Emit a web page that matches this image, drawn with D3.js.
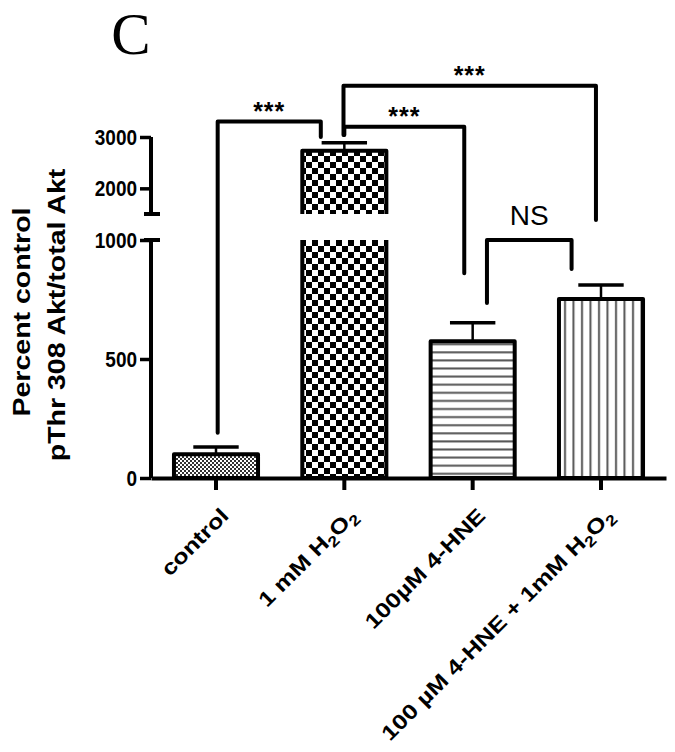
<!DOCTYPE html>
<html>
<head>
<meta charset="utf-8">
<script src="https://cdn.jsdelivr.net/npm/d3@7/dist/d3.min.js"></script>
<style>
  html, body { margin: 0; padding: 0; background: #fff; }
  svg { display: block; }
  text { font-family: Arial, "Liberation Sans", Helvetica, sans-serif; }
</style>
</head>
<body>
<svg width="675" height="752"></svg>
<script>
// data
const categories = ["control", "1 mM H2O2", "100µM 4-HNE", "100 µM 4-HNE + 1mM H2O2"];
const means = [100, 2730, 575, 752];
const sems = [30, 160, 77, 59];
const fills = ["fineDots", "checker", "hLines", "vLines"];

const yTicks = [0, 500, 1000, 2000, 3000];
const axisSegments = [[0, 1000], [1500, 3000]];

// significance brackets: categories, x offset (fraction of bar width), values for top and leg ends
const brackets = [
  { from: 0, to: 1, fromOff: 0.02, toOff: -0.28, top: 3300, fromEnd: 190, toEnd: 3000, label: "***" },
  { from: 1, to: 2, fromOff: 0.0, toOff: -0.10, top: 3200, fromEnd: 3040, toEnd: 860, label: "***" },
  { from: 1, to: 3, fromOff: -0.01, toOff: -0.06, top: 4000, fromEnd: 3040, toEnd: 1385, label: "***" },
  { from: 2, to: 3, fromOff: 0.17, toOff: -0.35, top: 1000, fromEnd: 735, toEnd: 878, label: "NS" }
];

const svg = d3.select("svg");

// broken axis: two linear pieces, gap between 1000 and 1500
const y = d3.scaleLinear()
  .domain([0, 1000, 1500, 3000])
  .range([478, 240, 214, 137]);

const x = d3.scaleBand()
  .domain(categories)
  .range([151, 666])
  .paddingInner(0.345)
  .paddingOuter(0.179);
const bw = x.bandwidth();

// patterns
const defs = svg.append("defs");
let p = defs.append("pattern").attr("id", "fineDots").attr("patternUnits", "userSpaceOnUse")
  .attr("width", 4).attr("height", 4);
p.append("rect").attr("width", 4).attr("height", 4).attr("fill", "#333");
p.append("rect").attr("width", 2).attr("height", 2).attr("fill", "#fff");
p.append("rect").attr("x", 2).attr("y", 2).attr("width", 2).attr("height", 2).attr("fill", "#fff");

p = defs.append("pattern").attr("id", "checker").attr("patternUnits", "userSpaceOnUse")
  .attr("width", 12).attr("height", 12);
p.append("rect").attr("width", 12).attr("height", 12).attr("fill", "#fff");
p.append("rect").attr("width", 6).attr("height", 6).attr("fill", "#000");
p.append("rect").attr("x", 6).attr("y", 6).attr("width", 6).attr("height", 6).attr("fill", "#000");

p = defs.append("pattern").attr("id", "hLines").attr("patternUnits", "userSpaceOnUse")
  .attr("width", 10).attr("height", 8.1);
p.append("rect").attr("width", 10).attr("height", 8.1).attr("fill", "#fff");
p.append("line").attr("x1", 0).attr("x2", 10).attr("y1", 4).attr("y2", 4)
  .attr("stroke", "#555").attr("stroke-width", 2);

p = defs.append("pattern").attr("id", "vLines").attr("patternUnits", "userSpaceOnUse")
  .attr("width", 8.5).attr("height", 10);
p.append("rect").attr("width", 8.5).attr("height", 10).attr("fill", "#fff");
p.append("line").attr("y1", 0).attr("y2", 10).attr("x1", 4).attr("x2", 4)
  .attr("stroke", "#555").attr("stroke-width", 2);

// bars
const rows = categories.map((c, i) => ({ cat: c, mean: means[i], sem: sems[i], fill: fills[i] }));
const barG = svg.append("g");

rows.forEach(d => {
  const x0 = x(d.cat), x1 = x0 + bw;
  if (d.mean > axisSegments[1][0]) {
    // bar crosses the break: lower and upper pieces, open at the gap
    const lo = axisSegments[0][1], hi = axisSegments[1][0];
    barG.append("rect").attr("x", x0).attr("width", bw)
      .attr("y", y(lo)).attr("height", y(0) - y(lo)).attr("fill", `url(#${d.fill})`);
    barG.append("rect").attr("x", x0).attr("width", bw)
      .attr("y", y(d.mean)).attr("height", y(hi) - y(d.mean)).attr("fill", `url(#${d.fill})`);
    barG.append("path")
      .attr("d", `M${x0},${y(lo)}V${y(0)}H${x1}V${y(lo)}`)
      .attr("fill", "none").attr("stroke", "#000").attr("stroke-width", 4);
    barG.append("path")
      .attr("d", `M${x0},${y(hi)}V${y(d.mean)}H${x1}V${y(hi)}`)
      .attr("fill", "none").attr("stroke", "#000").attr("stroke-width", 4)
      .attr("stroke-linejoin", "round");
  } else {
    barG.append("rect").attr("x", x0).attr("width", bw)
      .attr("y", y(d.mean)).attr("height", y(0) - y(d.mean))
      .attr("fill", `url(#${d.fill})`)
      .attr("stroke", "#000").attr("stroke-width", 4).attr("stroke-linejoin", "round");
  }
  // error bar (upper only)
  const cx = x0 + bw / 2;
  barG.append("line").attr("x1", cx).attr("x2", cx)
    .attr("y1", y(d.mean)).attr("y2", y(d.mean + d.sem))
    .attr("stroke", "#000").attr("stroke-width", 2.5);
  barG.append("line").attr("x1", cx - bw * 0.27).attr("x2", cx + bw * 0.27)
    .attr("y1", y(d.mean + d.sem)).attr("y2", y(d.mean + d.sem))
    .attr("stroke", "#000").attr("stroke-width", 3.5);
});

// y axis
const yAxisG = svg.append("g").attr("transform", "translate(151,0)")
  .call(d3.axisLeft(y).tickValues(yTicks).tickFormat(d3.format("d"))
    .tickSize(11).tickSizeOuter(0).tickPadding(3));
yAxisG.select(".domain").remove();
yAxisG.selectAll(".tick line").attr("stroke", "#000").attr("stroke-width", 3.5);
yAxisG.selectAll(".tick text")
  .attr("font-size", 19).attr("font-weight", "bold").attr("fill", "#000")
  .attr("font-family", "Arial, 'Liberation Sans', sans-serif")
  .attr("transform", "scale(1,1.2)");
axisSegments.forEach(s => {
  yAxisG.append("line").attr("x1", 0).attr("x2", 0)
    .attr("y1", y(s[0])).attr("y2", y(s[1]))
    .attr("stroke", "#000").attr("stroke-width", 4);
});
// caps at the break
[axisSegments[0][1], axisSegments[1][0]].forEach(v => {
  yAxisG.append("line").attr("x1", -7).attr("x2", 9)
    .attr("y1", y(v)).attr("y2", y(v))
    .attr("stroke", "#000").attr("stroke-width", 4);
});

// x axis
const xAxisG = svg.append("g").attr("transform", `translate(0,${y(0)})`)
  .call(d3.axisBottom(x).tickSize(12).tickSizeOuter(0));
xAxisG.select(".domain").attr("stroke", "#000").attr("stroke-width", 4);
xAxisG.selectAll(".tick line").attr("stroke", "#000").attr("stroke-width", 4);
xAxisG.selectAll(".tick text").remove();

// x labels with subscripts
function addLabel(g, str) {
  const t = g.append("text").attr("text-anchor", "end")
    .attr("font-size", 21).attr("font-weight", "bold").attr("fill", "#000");
  const parts = str.split(/([HO])2/);
  // parts: text, letter, text, letter ...
  let sub = false;
  parts.forEach((s, i) => {
    if (i % 2 === 1) {
      t.append("tspan").attr("dy", sub ? -5 : 0).attr("font-size", 21).text(s);
      t.append("tspan").attr("dy", 5).attr("font-size", 15).text("2");
      sub = true;
    } else if (s.length) {
      t.append("tspan").attr("dy", sub ? -5 : 0).attr("font-size", 21).text(s);
      sub = false;
    }
  });
}
categories.forEach(c => {
  const g = svg.append("g")
    .attr("transform", `translate(${x(c) + bw / 2 + 14},517) rotate(-45) scale(1.2,1)`);
  addLabel(g, c);
});

// y title
const yTitle = svg.append("g").attr("transform", "translate(0,312)");
yTitle.append("text")
  .attr("transform", "translate(30,0) rotate(-90) scale(1.24,1)")
  .attr("text-anchor", "middle").attr("font-size", 23).attr("font-weight", "bold")
  .text("Percent control");
yTitle.append("text")
  .attr("transform", "translate(65,3) rotate(-90) scale(1.24,1)")
  .attr("text-anchor", "middle").attr("font-size", 23).attr("font-weight", "bold")
  .text("pThr 308 Akt/total Akt");

// brackets
const bx = (i, off) => x(categories[i]) + bw / 2 + off * bw;
const brG = svg.append("g");
brackets.forEach(b => {
  const xa = bx(b.from, b.fromOff), xb = bx(b.to, b.toOff);
  brG.append("path")
    .attr("d", `M${xa},${y(b.fromEnd)}V${y(b.top)}H${xb}V${y(b.toEnd)}`)
    .attr("fill", "none").attr("stroke", "#000").attr("stroke-width", 4)
    .attr("stroke-linecap", "round").attr("stroke-linejoin", "round");
  const isNS = b.label === "NS";
  brG.append("text")
    .attr("x", (xa + xb) / 2).attr("y", y(b.top) - (isNS ? 15 : 2))
    .attr("text-anchor", "middle")
    .attr("font-size", isNS ? 28 : 25).attr("font-weight", isNS ? "normal" : "bold")
    .attr("letter-spacing", isNS ? 0 : 1)
    .text(b.label);
});

// panel letter
svg.append("text")
  .attr("x", 131).attr("y", 54)
  .attr("text-anchor", "middle")
  .style("font-family", "'Liberation Serif', 'Times New Roman', serif")
  .attr("font-size", 59)
  .text("C");
</script>
</body>
</html>
